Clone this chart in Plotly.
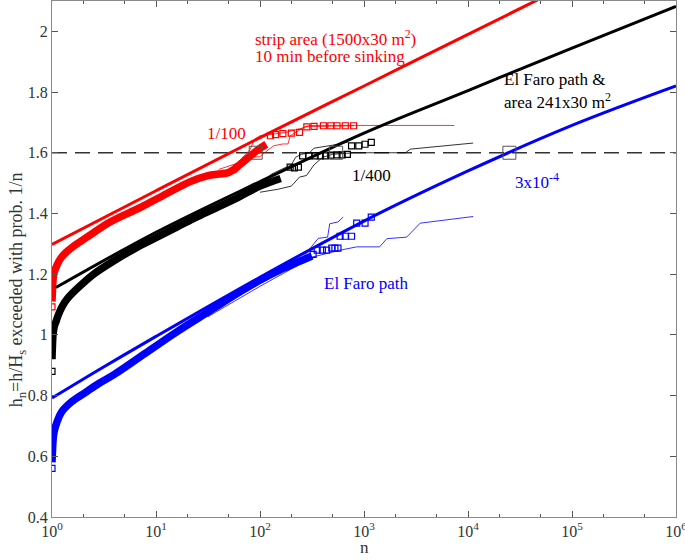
import plotly.graph_objects as go

# ---------------- data ----------------
# fitted curves (thick lines)
red_fit_n = [1, 10, 100, 1000, 1e4, 1e5]
red_fit_h = [1.298, 1.475, 1.65, 1.82, 1.99, 2.16]
black_fit_n = [1.09, 10, 100, 1000, 1e4, 1e5, 1e6]
black_fit_h = [1.156, 1.338, 1.505, 1.665, 1.805, 1.945, 2.082]
blue_fit_n = [1, 3.16, 10, 100, 1000, 1e4, 1e5, 1e6]
blue_fit_h = [0.792, 0.895, 0.995, 1.19, 1.375, 1.54, 1.69, 1.82]

# empirical data, dense part (drawn as a band of squares)
red_band_n = [1.0, 1.012, 1.023, 1.047, 1.117, 1.20, 1.33, 1.66, 2.24, 3.55, 7.1,
              12.6, 21.4, 31.6, 39.8, 50, 65, 93, 115]
red_band_h = [1.11, 1.15, 1.18, 1.205, 1.23, 1.25, 1.268, 1.295, 1.325, 1.37, 1.42,
              1.465, 1.505, 1.525, 1.53, 1.535, 1.563, 1.607, 1.628]
black_band_n = [1.0, 1.009, 1.023, 1.047, 1.096, 1.148, 1.259, 1.413, 1.778, 2.512,
                3.98, 6.31, 10, 15.85, 25.1, 39.8, 63.1, 100, 158]
black_band_h = [0.92, 0.96, 1.0, 1.025, 1.045, 1.065, 1.095, 1.12, 1.155, 1.20,
                1.245, 1.285, 1.32, 1.355, 1.39, 1.422, 1.455, 1.49, 1.515]
blue_band_n = [1.0, 1.012, 1.023, 1.047, 1.109, 1.23, 1.549, 2.089, 2.818, 3.98,
               7.94, 15.85, 31.6, 63.1, 100, 158, 251, 316]
blue_band_h = [0.58, 0.62, 0.65, 0.68, 0.71, 0.745, 0.78, 0.81, 0.84, 0.87,
               0.94, 1.01, 1.075, 1.14, 1.18, 1.215, 1.245, 1.26]

# empirical data, sparse part (individual squares)
red_pts_n = [1, 126, 141, 166, 200, 240, 282, 331, 407, 479, 550, 661, 794]
red_pts_h = [1.092, 1.656, 1.66, 1.663, 1.665, 1.667, 1.685, 1.687, 1.689, 1.689,
             1.689, 1.689, 1.689]
black_pts_n = [1, 195, 214, 234, 257, 295, 339, 380, 427, 479, 550, 617, 692, 759,
               891, 1023, 1175]
black_pts_h = [0.88, 1.553, 1.55, 1.553, 1.59, 1.59, 1.59, 1.59, 1.59, 1.592, 1.593,
               1.593, 1.595, 1.623, 1.623, 1.628, 1.634]
blue_pts_n = [1, 324, 355, 398, 437, 490, 525, 562, 589, 661, 759, 851, 1023, 1175]
blue_pts_h = [0.56, 1.265, 1.279, 1.279, 1.279, 1.286, 1.286, 1.286, 1.325, 1.325,
              1.325, 1.368, 1.368, 1.388]

# confidence bounds (thin lines)
red_up_n = [40, 60, 80, 89, 100, 130, 170, 250, 300, 7400]
red_up_h = [1.545, 1.565, 1.61, 1.645, 1.656, 1.662, 1.666, 1.68, 1.69, 1.69]
red_lo_n = [40, 60, 79, 100, 107, 135, 166, 186, 195, 270, 800]
red_lo_h = [1.52, 1.535, 1.585, 1.587, 1.596, 1.623, 1.629, 1.629, 1.656, 1.686, 1.689]
black_up_n = [100, 130, 160, 200, 220, 250, 300, 330, 500, 700]
black_up_h = [1.50, 1.53, 1.545, 1.56, 1.585, 1.595, 1.60, 1.615, 1.625, 1.635]
black_lo_n = [100, 150, 200, 240, 280, 330, 400, 500, 800, 2500, 2800, 11200]
black_lo_h = [1.47, 1.48, 1.49, 1.52, 1.525, 1.56, 1.585, 1.595, 1.60, 1.60, 1.612, 1.632]
blue_up_n = [31.6, 100, 251, 363, 447, 468, 562, 631]
blue_up_h = [1.08, 1.19, 1.25, 1.318, 1.322, 1.366, 1.372, 1.388]
blue_lo_n = [31.6, 100, 324, 589, 851, 1413, 1660, 2570, 3467, 11220]
blue_lo_h = [1.06, 1.16, 1.257, 1.279, 1.29, 1.29, 1.317, 1.322, 1.368, 1.39]

# threshold and marked return periods
threshold = 1.6
mark_n = [91, 540, 25000]

x_tick_vals = [1, 10, 100, 1000, 1e4, 1e5, 1e6]
x_tick_text = ["10<sup>0</sup>", "10<sup>1</sup>", "10<sup>2</sup>", "10<sup>3</sup>",
               "10<sup>4</sup>", "10<sup>5</sup>", "10<sup>6</sup>"]
y_tick_vals = [0.4, 0.6, 0.8, 1.0, 1.2, 1.4, 1.6, 1.8, 2.0]
y_tick_text = ["0.4", "0.6", "0.8", "1", "1.2", "1.4", "1.6", "1.8", "2"]

RED, BLACK, BLUE = "#ff0000", "#000000", "#0000ff"
FONT = "Liberation Serif"

fig = go.Figure()

# threshold dashed line
fig.add_trace(go.Scatter(x=[1, 1e6], y=[threshold, threshold], mode="lines",
                         line=dict(color="#333333", width=1.5, dash="15px,8px"),
                         showlegend=False, hoverinfo="skip"))

series = [
    (RED, red_band_n, red_band_h, red_pts_n, red_pts_h, red_up_n, red_up_h,
     red_lo_n, red_lo_h, red_fit_n, red_fit_h),
    (BLACK, black_band_n, black_band_h, black_pts_n, black_pts_h, black_up_n,
     black_up_h, black_lo_n, black_lo_h, black_fit_n, black_fit_h),
    (BLUE, blue_band_n, blue_band_h, blue_pts_n, blue_pts_h, blue_up_n, blue_up_h,
     blue_lo_n, blue_lo_h, blue_fit_n, blue_fit_h),
]
for (c, bn, bh, pn, ph, un, uh, ln, lh, fn, fh) in series:
    fig.add_trace(go.Scatter(x=un, y=uh, mode="lines", line=dict(color=c, width=0.8),
                             showlegend=False))
    fig.add_trace(go.Scatter(x=ln, y=lh, mode="lines", line=dict(color=c, width=0.8),
                             showlegend=False))
    fig.add_trace(go.Scatter(x=bn, y=bh, mode="lines",
                             line=dict(color=c, width=7.5, shape="spline"),
                             showlegend=False))
    fig.add_trace(go.Scatter(x=pn, y=ph, mode="markers",
                             marker=dict(symbol="square-open", size=6, color=c,
                                         line=dict(width=1.2)),
                             showlegend=False))
    fig.add_trace(go.Scatter(x=fn, y=fh, mode="lines",
                             line=dict(color=c, width=3, shape="spline"),
                             showlegend=False))

# big marker squares at the threshold
fig.add_trace(go.Scatter(x=mark_n, y=[threshold] * len(mark_n), mode="markers",
                         marker=dict(symbol="square-open", size=13, color="#555555",
                                     line=dict(width=1)),
                         showlegend=False))

annos = [
    dict(x=1.93, y=1.978, text="strip area (1500x30 m<sup>2</sup>)", color=RED),
    dict(x=1.93, y=1.916, text="10 min before sinking", color=RED),
    dict(x=4.33, y=1.843, text="El Faro path &amp;", color=BLACK),
    dict(x=4.33, y=1.77, text="area 241x30 m<sup>2</sup>", color=BLACK),
    dict(x=1.47, y=1.663, text="1/100", color=RED),
    dict(x=2.865, y=1.525, text="1/400", color=BLACK),
    dict(x=4.43, y=1.508, text="3x10<sup>-4</sup>", color=BLUE),
    dict(x=2.6, y=1.17, text="El Faro path", color=BLUE),
]
for a in annos:
    fig.add_annotation(x=a["x"], y=a["y"], text=a["text"], showarrow=False,
                       xanchor="left", yanchor="middle",
                       font=dict(family=FONT, size=17, color=a["color"]))

# axis titles as annotations (placed as in the reference)
fig.add_annotation(x=0.5, y=-0.06, xref="paper", yref="paper", text="n",
                   showarrow=False, xanchor="center", yanchor="middle",
                   font=dict(family=FONT, size=17, color="#333333"))
fig.add_annotation(x=-0.054, y=0.44, xref="paper", yref="paper",
                   text="h<sub>n</sub>=h/H<sub>s</sub> exceeded with prob. 1/n",
                   textangle=-90, showarrow=False, xanchor="center", yanchor="middle",
                   font=dict(family=FONT, size=18, color="#333333"))

axis_common = dict(showline=True, linecolor="#8a8a8a", linewidth=1, mirror="ticks",
                   ticks="inside", tickcolor="#555555", ticklen=6, showgrid=False,
                   zeroline=False, automargin=False, ticklabeloverflow="allow",
                   tickfont=dict(family=FONT, size=16, color="#333333"))

fig.update_xaxes(type="log", range=[0, 6], tickvals=x_tick_vals, ticktext=x_tick_text,
                 minor=dict(ticks="inside", ticklen=3, tickcolor="#555555", showgrid=False),
                 **axis_common)
fig.update_yaxes(range=[0.4, 2.1], tickvals=y_tick_vals, ticktext=y_tick_text,
                 **axis_common)

fig.update_layout(width=685, height=560, margin=dict(l=52, r=9, t=1, b=43),
                  paper_bgcolor="white", plot_bgcolor="white",
                  font=dict(family=FONT))

fig.write_html("out.html", config={"displayModeBar": False},
               post_script="document.body.style.margin='0px';document.body.style.overflow='hidden';")
